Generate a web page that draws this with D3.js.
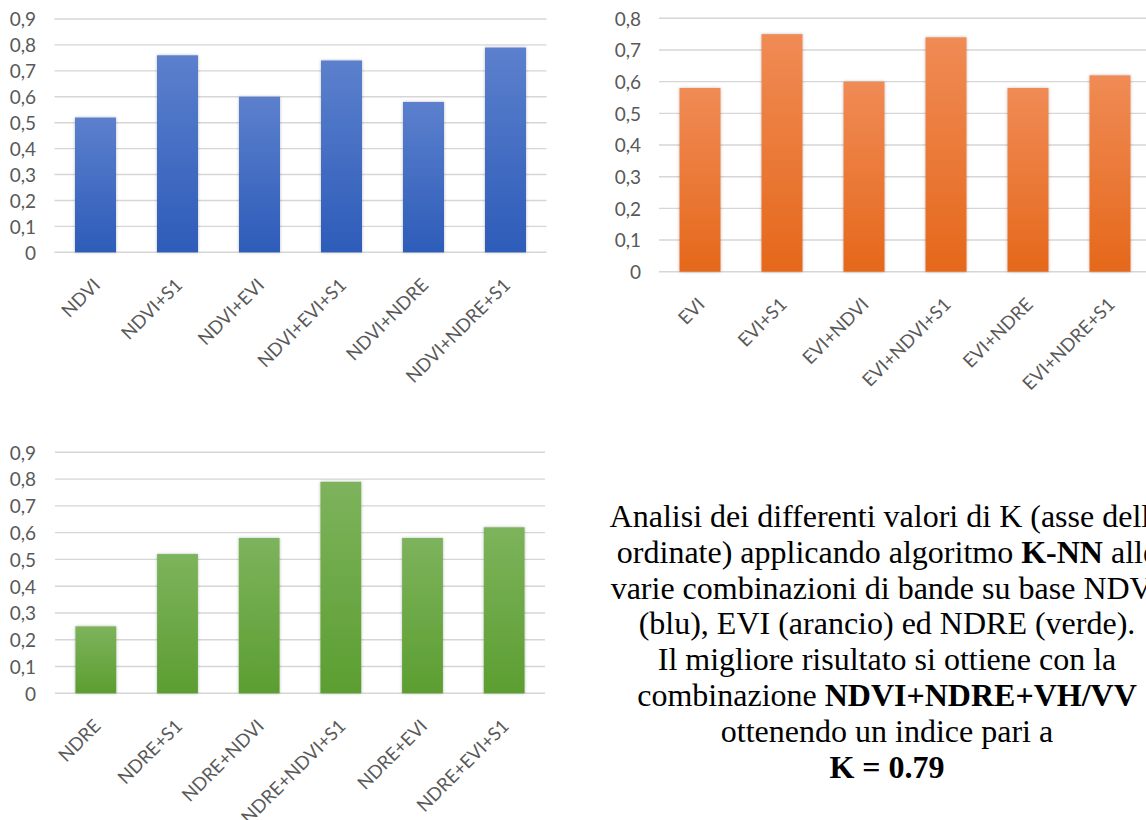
<!DOCTYPE html>
<html>
<head>
<meta charset="utf-8">
<script src="https://cdn.jsdelivr.net/npm/d3@7"></script>
<style>
  html, body { margin: 0; padding: 0; background: #fff; overflow: hidden; }
  svg { display: block; }
</style>
</head>
<body>
<svg id="chart" width="1146" height="820"></svg>
<script>
// K values for each band combination, grouped by base index
const ndviCategories = ["NDVI", "NDVI+S1", "NDVI+EVI", "NDVI+EVI+S1", "NDVI+NDRE", "NDVI+NDRE+S1"];
const ndviValues     = [0.52, 0.76, 0.60, 0.74, 0.58, 0.79];

const eviCategories  = ["EVI", "EVI+S1", "EVI+NDVI", "EVI+NDVI+S1", "EVI+NDRE", "EVI+NDRE+S1"];
const eviValues      = [0.58, 0.75, 0.60, 0.74, 0.58, 0.62];

const ndreCategories = ["NDRE", "NDRE+S1", "NDRE+NDVI", "NDRE+NDVI+S1", "NDRE+EVI", "NDRE+EVI+S1"];
const ndreValues     = [0.25, 0.52, 0.58, 0.79, 0.58, 0.62];

const ticks09 = [0, 0.1, 0.2, 0.3, 0.4, 0.5, 0.6, 0.7, 0.8, 0.9];
const ticks08 = [0, 0.1, 0.2, 0.3, 0.4, 0.5, 0.6, 0.7, 0.8];

const svg = d3.select("#chart");
const defs = svg.append("defs");

// soft shadow under the columns
const shadow = defs.append("filter").attr("id", "colShadow")
  .attr("x", "-30%").attr("y", "-10%").attr("width", "160%").attr("height", "120%");
shadow.append("feDropShadow")
  .attr("dx", 0).attr("dy", 0).attr("stdDeviation", 1.6)
  .attr("flood-color", "#000").attr("flood-opacity", 0.28);

function gradient(id, top, bottom) {
  const g = defs.append("linearGradient").attr("id", id)
    .attr("x1", 0).attr("y1", 0).attr("x2", 0).attr("y2", 1);
  g.append("stop").attr("offset", "0%").attr("stop-color", top);
  g.append("stop").attr("offset", "100%").attr("stop-color", bottom);
}
gradient("gBlue",   "#5c80cd", "#2d5cb9");
gradient("gOrange", "#f08b55", "#e5681b");
gradient("gGreen",  "#7db35c", "#5c9e31");

const fmt = d => d === 0 ? "0" : d3.format(".1f")(d).replace(".", ",");
const labelFont = "Lato, 'Open Sans', sans-serif";

function barChart(cfg) {
  const x = d3.scaleBand().domain(cfg.categories)
    .range([cfg.x0, cfg.x1]).paddingInner(0.5).paddingOuter(0.25);
  const y = d3.scaleLinear().domain([0, cfg.max]).range([cfg.yBase, cfg.yTop]);

  const g = svg.append("g");

  // horizontal gridlines (including the baseline)
  g.append("g").selectAll("line").data(cfg.ticks).join("line")
    .attr("x1", cfg.x0).attr("x2", cfg.x1)
    .attr("y1", d => y(d)).attr("y2", d => y(d))
    .attr("stroke", "#d6d6d6").attr("stroke-width", 1.4);

  // value axis labels
  const yAxis = d3.axisLeft(y).tickValues(cfg.ticks).tickFormat(fmt).tickSize(0).tickPadding(0);
  const ya = g.append("g").attr("transform", `translate(${cfg.labelX},0)`).call(yAxis);
  ya.select(".domain").remove();
  ya.selectAll("text")
    .attr("font-family", labelFont)
    .attr("font-size", 19).attr("fill", "#595959").attr("dy", "0.36em");

  // columns
  g.append("g").selectAll("rect").data(cfg.values).join("rect")
    .attr("x", (d, i) => x(cfg.categories[i]))
    .attr("width", x.bandwidth())
    .attr("y", d => y(d))
    .attr("height", d => y(0) - y(d))
    .attr("fill", `url(#${cfg.fill})`)
    .attr("filter", "url(#colShadow)");

  // category labels, rotated
  const xAxis = d3.axisBottom(x).tickSize(0).tickPadding(0);
  const xa = g.append("g").attr("transform", `translate(0,${cfg.yBase})`).call(xAxis);
  xa.select(".domain").remove();
  xa.selectAll("text")
    .attr("font-family", labelFont)
    .attr("font-size", 18.5).attr("fill", "#595959")
    .attr("text-anchor", "end")
    .attr("dy", 0)
    .attr("transform", "translate(6,34) rotate(-45)");
}

barChart({ categories: ndviCategories, values: ndviValues, fill: "gBlue",
  x0: 54.5, x1: 546.5, yBase: 252.3, yTop: 19, max: 0.9, ticks: ticks09, labelX: 36 });

barChart({ categories: eviCategories, values: eviValues, fill: "gOrange",
  x0: 659, x1: 1151, yBase: 271.7, yTop: 18.3, max: 0.8, ticks: ticks08, labelX: 641 });

barChart({ categories: ndreCategories, values: ndreValues, fill: "gGreen",
  x0: 55, x1: 545, yBase: 693.3, yTop: 452.3, max: 0.9, ticks: ticks09, labelX: 36 });

// caption
const caption = [
  [["Analisi dei differenti valori di K (asse delle", false]],
  [["ordinate) applicando algoritmo ", false], ["K-NN", true], [" alle", false]],
  [["varie combinazioni di bande su base NDVI", false]],
  [["(blu), EVI (arancio) ed NDRE (verde).", false]],
  [["Il migliore risultato si ottiene con la", false]],
  [["combinazione ", false], ["NDVI+NDRE+VH/VV", true]],
  [["ottenendo un indice pari a", false]],
  [["K = 0.79", true]]
];
const cap = svg.append("text")
  .attr("font-family", "'Liberation Serif', 'Times New Roman', serif")
  .attr("font-size", 32).attr("fill", "#000").attr("text-anchor", "middle");
caption.forEach((line, i) => {
  const t = cap.append("tspan").attr("x", 887).attr("y", 527 + i * 35.8);
  line.forEach(([s, bold]) => {
    t.append("tspan").attr("font-weight", bold ? "bold" : "normal").text(s);
  });
});
</script>
</body>
</html>
